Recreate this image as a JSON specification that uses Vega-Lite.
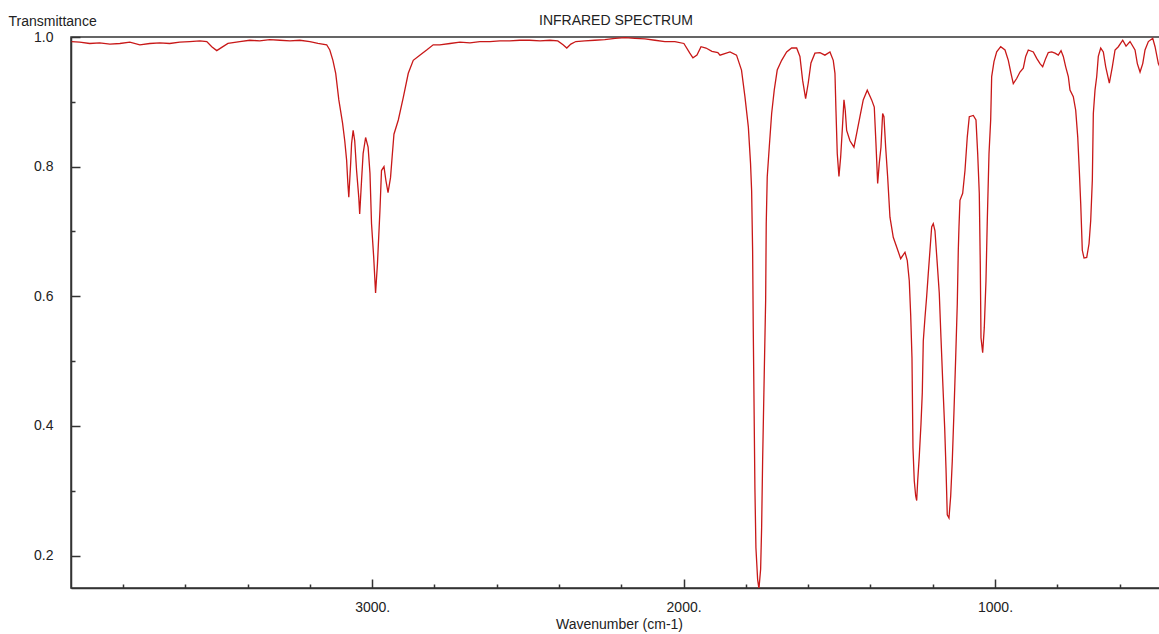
{
  "$schema": "https://vega.github.io/schema/vega-lite/v6.json",
  "autosize": "none",
  "width": 1090,
  "height": 551,
  "padding": {"left": 71, "top": 37, "right": 0, "bottom": 46},
  "background": "white",
  "config": {"font": "Liberation Sans", "view": {"stroke": "#333", "strokeWidth": 1.5}},
  "title": {"text": "INFRARED SPECTRUM", "anchor": "middle", "fontSize": 14, "fontWeight": "normal", "color": "#222", "offset": -25, "baseline": "alphabetic"},
  "data": {"values": [
    {"wn":3965,"t":0.993},{"wn":3939,"t":0.992},{"wn":3907,"t":0.990},{"wn":3875,"t":0.991},{"wn":3842,"t":0.989},{"wn":3810,"t":0.990},{"wn":3778,"t":0.992},{"wn":3746,"t":0.988},{"wn":3714,"t":0.990},{"wn":3682,"t":0.991},{"wn":3650,"t":0.990},{"wn":3618,"t":0.992},{"wn":3586,"t":0.993},{"wn":3553,"t":0.994},{"wn":3531,"t":0.993},{"wn":3515,"t":0.985},{"wn":3499,"t":0.979},{"wn":3483,"t":0.984},{"wn":3463,"t":0.990},{"wn":3425,"t":0.993},{"wn":3393,"t":0.995},{"wn":3361,"t":0.994},{"wn":3329,"t":0.996},{"wn":3296,"t":0.995},{"wn":3264,"t":0.994},{"wn":3232,"t":0.995},{"wn":3200,"t":0.993},{"wn":3174,"t":0.990},{"wn":3146,"t":0.988},{"wn":3136,"t":0.980},{"wn":3126,"t":0.964},{"wn":3117,"t":0.944},{"wn":3107,"t":0.903},{"wn":3095,"t":0.867},{"wn":3088,"t":0.840},{"wn":3082,"t":0.810},{"wn":3078,"t":0.774},{"wn":3075,"t":0.753},{"wn":3069,"t":0.805},{"wn":3066,"t":0.836},{"wn":3061,"t":0.856},{"wn":3056,"t":0.840},{"wn":3050,"t":0.794},{"wn":3043,"t":0.753},{"wn":3040,"t":0.727},{"wn":3034,"t":0.779},{"wn":3029,"t":0.820},{"wn":3021,"t":0.845},{"wn":3013,"t":0.830},{"wn":3007,"t":0.790},{"wn":3002,"t":0.712},{"wn":2995,"t":0.660},{"wn":2989,"t":0.605},{"wn":2983,"t":0.650},{"wn":2975,"t":0.732},{"wn":2970,"t":0.794},{"wn":2962,"t":0.800},{"wn":2956,"t":0.779},{"wn":2949,"t":0.760},{"wn":2941,"t":0.783},{"wn":2936,"t":0.814},{"wn":2930,"t":0.850},{"wn":2916,"t":0.872},{"wn":2900,"t":0.907},{"wn":2884,"t":0.944},{"wn":2868,"t":0.964},{"wn":2847,"t":0.972},{"wn":2825,"t":0.980},{"wn":2804,"t":0.988},{"wn":2783,"t":0.988},{"wn":2750,"t":0.990},{"wn":2718,"t":0.992},{"wn":2686,"t":0.991},{"wn":2654,"t":0.993},{"wn":2622,"t":0.993},{"wn":2590,"t":0.994},{"wn":2558,"t":0.994},{"wn":2526,"t":0.995},{"wn":2494,"t":0.995},{"wn":2461,"t":0.994},{"wn":2429,"t":0.995},{"wn":2404,"t":0.994},{"wn":2387,"t":0.988},{"wn":2375,"t":0.983},{"wn":2362,"t":0.989},{"wn":2346,"t":0.993},{"wn":2317,"t":0.994},{"wn":2285,"t":0.995},{"wn":2253,"t":0.996},{"wn":2220,"t":0.998},{"wn":2188,"t":0.999},{"wn":2156,"t":0.998},{"wn":2124,"t":0.997},{"wn":2092,"t":0.995},{"wn":2060,"t":0.993},{"wn":2028,"t":0.993},{"wn":1999,"t":0.990},{"wn":1980,"t":0.975},{"wn":1970,"t":0.968},{"wn":1957,"t":0.972},{"wn":1944,"t":0.985},{"wn":1928,"t":0.983},{"wn":1909,"t":0.978},{"wn":1890,"t":0.976},{"wn":1883,"t":0.972},{"wn":1851,"t":0.977},{"wn":1830,"t":0.972},{"wn":1814,"t":0.949},{"wn":1803,"t":0.908},{"wn":1792,"t":0.861},{"wn":1785,"t":0.805},{"wn":1781.5,"t":0.763},{"wn":1778.3,"t":0.670},{"wn":1776.3,"t":0.552},{"wn":1770.9,"t":0.302},{"wn":1767.7,"t":0.212},{"wn":1762.2,"t":0.163},{"wn":1758,"t":0.149},{"wn":1752.6,"t":0.179},{"wn":1749.4,"t":0.243},{"wn":1746.2,"t":0.346},{"wn":1741,"t":0.480},{"wn":1736.5,"t":0.593},{"wn":1734.6,"t":0.712},{"wn":1731.4,"t":0.784},{"wn":1724.9,"t":0.830},{"wn":1717.2,"t":0.882},{"wn":1708.9,"t":0.918},{"wn":1699.3,"t":0.949},{"wn":1685.1,"t":0.964},{"wn":1669.1,"t":0.977},{"wn":1653,"t":0.983},{"wn":1636.9,"t":0.983},{"wn":1626.4,"t":0.970},{"wn":1617.7,"t":0.933},{"wn":1608.1,"t":0.905},{"wn":1599.7,"t":0.929},{"wn":1591,"t":0.960},{"wn":1578.2,"t":0.975},{"wn":1562.1,"t":0.976},{"wn":1546.1,"t":0.972},{"wn":1530,"t":0.977},{"wn":1519.4,"t":0.964},{"wn":1513.9,"t":0.944},{"wn":1510.7,"t":0.887},{"wn":1506.5,"t":0.820},{"wn":1501.1,"t":0.785},{"wn":1495.6,"t":0.815},{"wn":1490.5,"t":0.856},{"wn":1485,"t":0.903},{"wn":1480.9,"t":0.887},{"wn":1476.4,"t":0.856},{"wn":1465.8,"t":0.840},{"wn":1452.9,"t":0.830},{"wn":1442.3,"t":0.856},{"wn":1433.7,"t":0.877},{"wn":1423.1,"t":0.903},{"wn":1410.2,"t":0.918},{"wn":1396.1,"t":0.903},{"wn":1387.7,"t":0.892},{"wn":1382.3,"t":0.836},{"wn":1376.8,"t":0.774},{"wn":1371.7,"t":0.805},{"wn":1366.2,"t":0.830},{"wn":1360.8,"t":0.882},{"wn":1356.6,"t":0.877},{"wn":1351.1,"t":0.830},{"wn":1344.7,"t":0.784},{"wn":1337.3,"t":0.722},{"wn":1326.7,"t":0.691},{"wn":1315.8,"t":0.676},{"wn":1302.9,"t":0.658},{"wn":1289.1,"t":0.668},{"wn":1281.7,"t":0.655},{"wn":1275.3,"t":0.624},{"wn":1270.8,"t":0.572},{"wn":1266.6,"t":0.505},{"wn":1263.4,"t":0.366},{"wn":1259.2,"t":0.315},{"wn":1254.7,"t":0.292},{"wn":1251.5,"t":0.285},{"wn":1248.3,"t":0.315},{"wn":1243.2,"t":0.353},{"wn":1237.7,"t":0.403},{"wn":1233.5,"t":0.451},{"wn":1230.3,"t":0.531},{"wn":1224.9,"t":0.567},{"wn":1219.4,"t":0.600},{"wn":1214.3,"t":0.635},{"wn":1208.8,"t":0.671},{"wn":1203.4,"t":0.707},{"wn":1198.2,"t":0.712},{"wn":1192.8,"t":0.701},{"wn":1185.4,"t":0.650},{"wn":1179,"t":0.605},{"wn":1173.5,"t":0.536},{"wn":1168,"t":0.470},{"wn":1161.6,"t":0.397},{"wn":1157.4,"t":0.335},{"wn":1153.3,"t":0.263},{"wn":1147.8,"t":0.258},{"wn":1142.3,"t":0.292},{"wn":1137.2,"t":0.346},{"wn":1131.7,"t":0.423},{"wn":1126.3,"t":0.505},{"wn":1121.1,"t":0.589},{"wn":1117.9,"t":0.671},{"wn":1115.7,"t":0.707},{"wn":1112.5,"t":0.748},{"wn":1103.8,"t":0.759},{"wn":1096.4,"t":0.794},{"wn":1089,"t":0.846},{"wn":1082.6,"t":0.877},{"wn":1069.7,"t":0.879},{"wn":1061.1,"t":0.872},{"wn":1055.6,"t":0.820},{"wn":1050.5,"t":0.759},{"wn":1047.3,"t":0.650},{"wn":1045,"t":0.536},{"wn":1039.6,"t":0.513},{"wn":1034.4,"t":0.552},{"wn":1029,"t":0.624},{"wn":1024.8,"t":0.717},{"wn":1019.3,"t":0.820},{"wn":1013.9,"t":0.872},{"wn":1010.7,"t":0.939},{"wn":1003.3,"t":0.962},{"wn":994.6,"t":0.977},{"wn":981.7,"t":0.985},{"wn":967.9,"t":0.980},{"wn":957.3,"t":0.964},{"wn":948.7,"t":0.944},{"wn":941.3,"t":0.928},{"wn":930.4,"t":0.936},{"wn":919.8,"t":0.946},{"wn":909.2,"t":0.952},{"wn":901.5,"t":0.970},{"wn":893.1,"t":0.980},{"wn":877,"t":0.977},{"wn":866.1,"t":0.967},{"wn":855.5,"t":0.959},{"wn":846.9,"t":0.954},{"wn":837.2,"t":0.967},{"wn":828.9,"t":0.976},{"wn":817.9,"t":0.977},{"wn":807.4,"t":0.975},{"wn":796.8,"t":0.972},{"wn":788,"t":0.979},{"wn":780.7,"t":0.970},{"wn":773,"t":0.954},{"wn":764.6,"t":0.939},{"wn":759.2,"t":0.918},{"wn":748.6,"t":0.908},{"wn":740.9,"t":0.887},{"wn":734.4,"t":0.846},{"wn":729.3,"t":0.794},{"wn":724.8,"t":0.743},{"wn":719.7,"t":0.671},{"wn":714.2,"t":0.659},{"wn":705.5,"t":0.660},{"wn":698.1,"t":0.681},{"wn":692.7,"t":0.717},{"wn":687.5,"t":0.779},{"wn":684.3,"t":0.882},{"wn":678.9,"t":0.918},{"wn":673.4,"t":0.939},{"wn":668.3,"t":0.970},{"wn":660.6,"t":0.983},{"wn":652.2,"t":0.977},{"wn":644.5,"t":0.954},{"wn":632.9,"t":0.929},{"wn":623.3,"t":0.954},{"wn":614.6,"t":0.980},{"wn":604,"t":0.985},{"wn":589.9,"t":0.995},{"wn":579.3,"t":0.986},{"wn":566.5,"t":0.993},{"wn":550.4,"t":0.980},{"wn":543,"t":0.959},{"wn":534.3,"t":0.946},{"wn":525.6,"t":0.959},{"wn":518.3,"t":0.980},{"wn":507.6,"t":0.993},{"wn":493.5,"t":0.998},{"wn":486.1,"t":0.985},{"wn":475.5,"t":0.959},{"wn":467,"t":0.950}
  ]},
  "mark": {"type": "line", "color": "#c81818", "strokeWidth": 1.3, "clip": true},
  "encoding": {
    "x": {
      "field": "wn", "type": "quantitative",
      "scale": {"domain": [467, 3967], "reverse": true, "nice": false, "zero": false},
      "axis": {
        "title": "Wavenumber (cm-1)",
        "values": [600, 800, 1000, 1200, 1400, 1600, 1800, 2000, 2200, 2400, 2600, 2800, 3000, 3200, 3400, 3600, 3800],
        "labelExpr": "datum.value % 1000 === 0 ? datum.value + '.' : ''",
        "tickSize": {"condition": {"test": "datum.value % 1000 === 0", "value": -9}, "value": -4},
        "tickColor": "#333", "tickWidth": 1.5,
        "domainColor": "#333", "domainWidth": 1.5,
        "labelFontSize": 14, "labelColor": "#222", "labelPadding": 21, "labelFlush": false, "labelOverlap": false,
        "grid": false,
        "titleFontSize": 14, "titleFontWeight": "normal", "titleColor": "#222",
        "titleX": 548, "titleY": 40, "titleAlign": "center", "titleBaseline": "alphabetic"
      }
    },
    "y": {
      "field": "t", "type": "quantitative",
      "scale": {"domain": [0.15, 1.0], "nice": false, "zero": false},
      "axis": {
        "title": "Transmittance",
        "titleAngle": 0, "titleX": -63, "titleY": -12, "titleAlign": "left", "titleBaseline": "alphabetic",
        "titleFontSize": 14, "titleFontWeight": "normal", "titleColor": "#222",
        "values": [0.2, 0.3, 0.4, 0.5, 0.6, 0.7, 0.8, 0.9, 1.0],
        "labelExpr": "round(datum.value * 10) % 2 === 0 ? format(datum.value, '.1f') : ''",
        "tickSize": {"condition": {"test": "round(datum.value * 10) % 2 === 0", "value": -9}, "value": -4},
        "tickColor": "#333", "tickWidth": 1.5,
        "domainColor": "#333", "domainWidth": 1.5,
        "labelFontSize": 14, "labelColor": "#222", "labelPadding": 27, "labelFlush": false, "labelOverlap": false,
        "grid": false
      }
    }
  }
}
